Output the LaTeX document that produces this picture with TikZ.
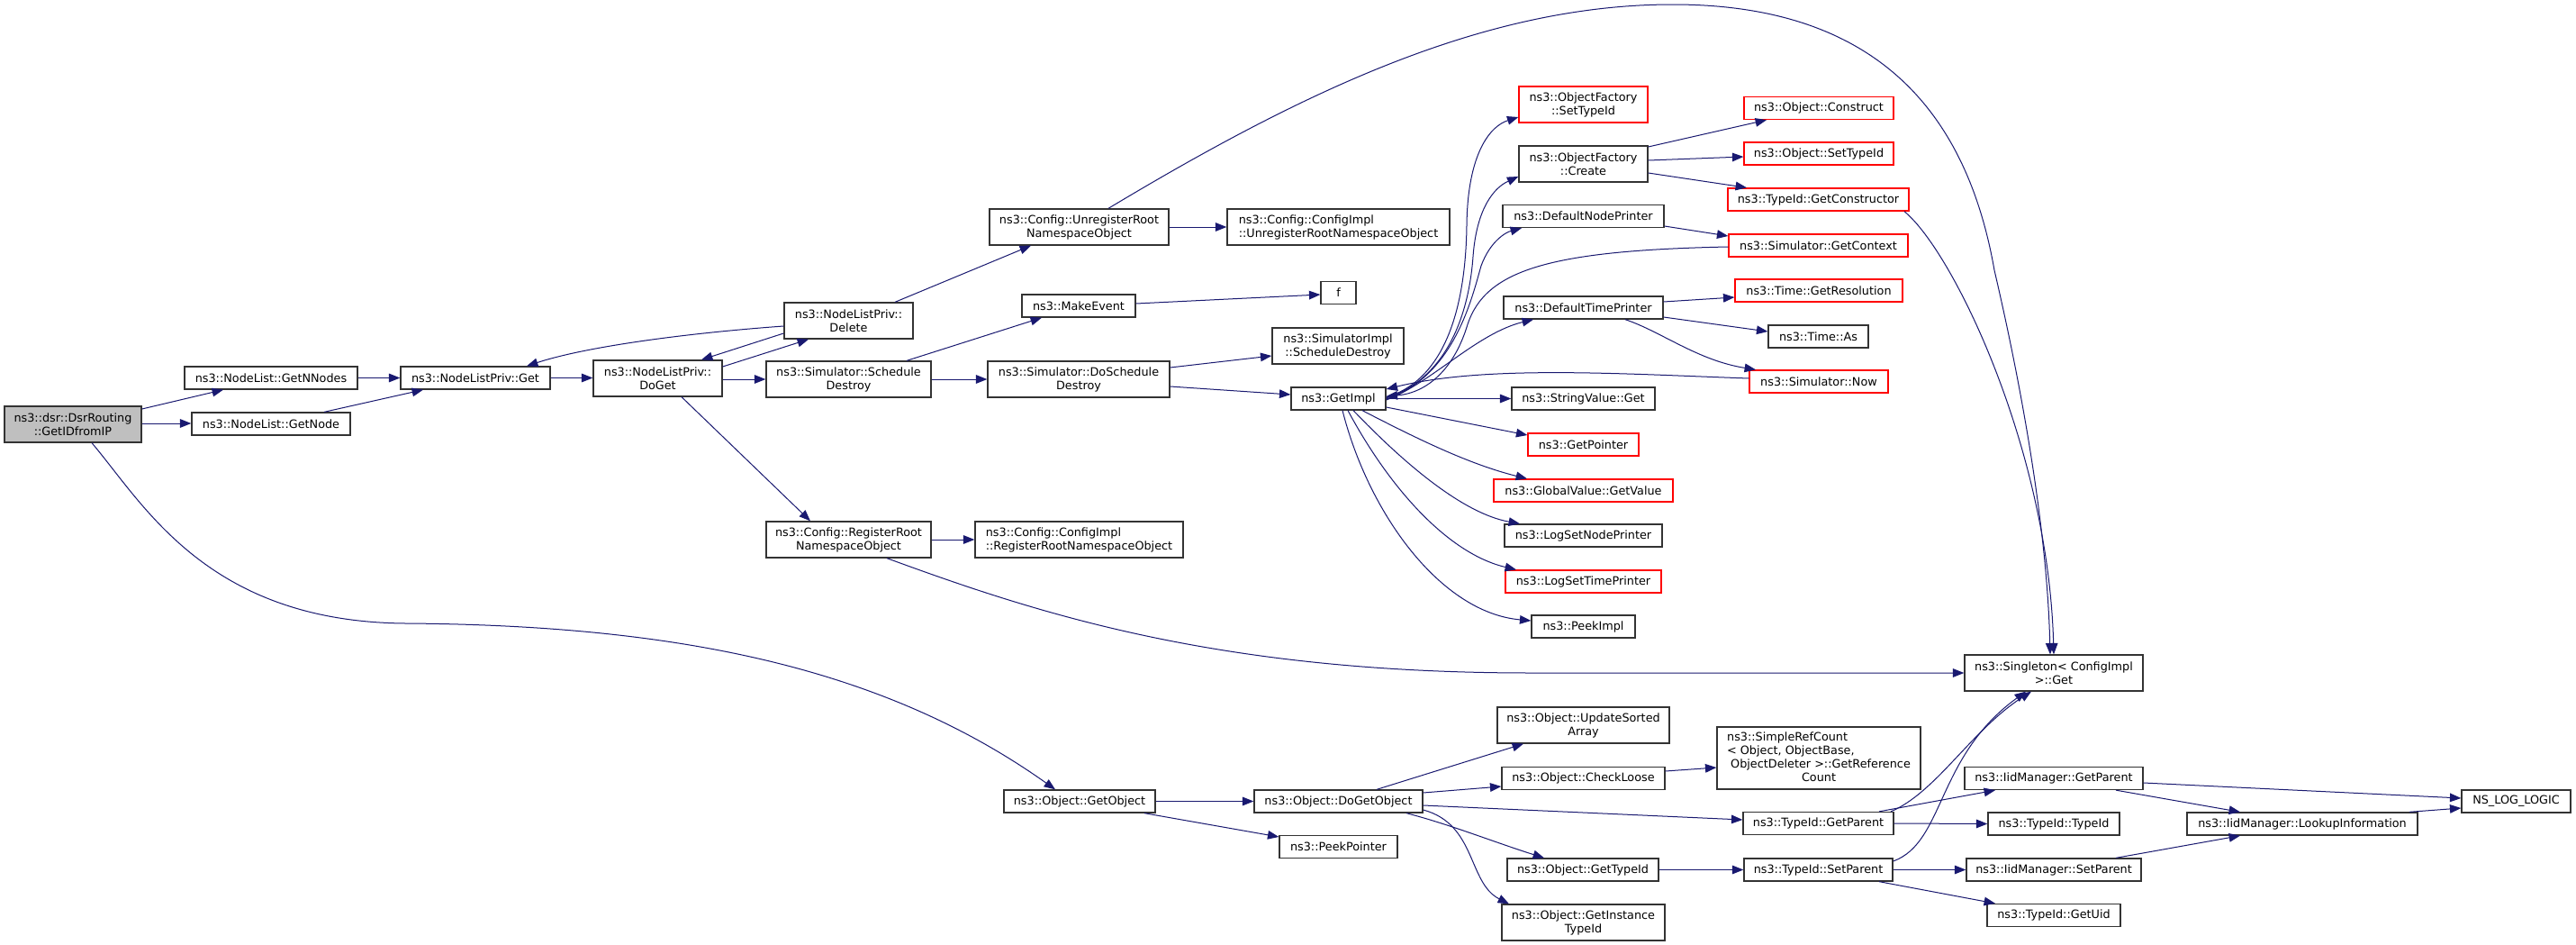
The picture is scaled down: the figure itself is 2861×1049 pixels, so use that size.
\documentclass[tikz,border=0pt]{standalone}
\usepackage{fontspec}
\setmainfont{DejaVu Sans}
\usetikzlibrary{arrows.meta,calc}
\definecolor{edgecol}{HTML}{191970}
\definecolor{rootfill}{HTML}{BFBFBF}
\definecolor{boxline}{HTML}{333333}
\definecolor{missred}{HTML}{FF0000}
\tikzset{
  fn/.style={draw=boxline, line width=0.65pt, inner sep=0pt, fill=white,
    font=\fontsize{6.4pt}{7.5pt}\selectfont, align=center},
  missing/.style={fn, draw=missred},
  bx/.style 2 args={minimum width=#1*0.5pt, minimum height=#2*0.5pt},
  call/.style={draw=edgecol, line width=0.5pt, -{Triangle[length=6.2pt,width=4.8pt]}, fill=none}
}
\begin{document}
\begin{tikzpicture}[x=0.5pt,y=-0.5pt]
\fill[white] (0,0) rectangle (2861,1049);
\useasboundingbox (0,0) rectangle (2861,1049);

% nodes
\node[fn, bx={152}{40}, fill=rootfill] (root) at (81,471) {ns3::dsr::DsrRouting\\::GetIDfromIP};
\node[fn, bx={192}{25}] (getnnodes) at (301,419.5) {ns3::NodeList::GetNNodes};
\node[fn, bx={176}{25}] (getnode) at (301,470.5) {ns3::NodeList::GetNode};
\node[fn, bx={166}{25}] (nlpget) at (528,419.5) {ns3::NodeListPriv::Get};
\node[fn, bx={143}{40}] (doget) at (730.5,420) {ns3::NodeListPriv::\\DoGet};
\node[fn, bx={143}{40}] (delete) at (942.5,356) {ns3::NodeListPriv::\\Delete};
\node[fn, bx={183}{40}] (schdest) at (942.5,421) {ns3::Simulator::Schedule\\Destroy};
\node[fn, bx={183}{40}] (regroot) at (942.5,599) {ns3::Config::RegisterRoot\\NamespaceObject};
\node[fn, bx={199}{40}] (unreg) at (1198.5,252) {ns3::Config::UnregisterRoot\\NamespaceObject};
\node[fn, bx={126}{25}] (makeevent) at (1198,339.5) {ns3::MakeEvent};
\node[fn, bx={202}{40}] (doschdest) at (1198,421) {ns3::Simulator::DoSchedule\\Destroy};
\node[fn, bx={231}{40}, align=left] (cfgreg) at (1198.5,599) {ns3::Config::ConfigImpl\\::RegisterRootNamespaceObject};
\node[fn, bx={168}{25}] (getobject) at (1199,889.5) {ns3::Object::GetObject};
\node[fn, bx={247}{40}, align=left] (cfgunreg) at (1486.5,252) {ns3::Config::ConfigImpl\\::UnregisterRootNamespaceObject};
\node[fn, bx={39}{25}] (f) at (1486.5,325) {f};
\node[fn, bx={146}{40}] (simimpl) at (1486,384) {ns3::SimulatorImpl\\::ScheduleDestroy};
\node[fn, bx={105}{25}] (getimpl) at (1486.5,442.5) {ns3::GetImpl};
\node[fn, bx={187}{25}] (dogetobject) at (1486.5,889.5) {ns3::Object::DoGetObject};
\node[fn, bx={131}{25}] (peekpointer) at (1486.5,940) {ns3::PeekPointer};
\node[missing, bx={143}{40}] (ofsettype) at (1758.5,116) {ns3::ObjectFactory\\::SetTypeId};
\node[fn, bx={143}{40}] (ofcreate) at (1758.5,182) {ns3::ObjectFactory\\::Create};
\node[fn, bx={179}{25}] (defnode) at (1758.5,240) {ns3::DefaultNodePrinter};
\node[fn, bx={177}{25}] (deftime) at (1758.5,341.5) {ns3::DefaultTimePrinter};
\node[fn, bx={159}{25}] (stringget) at (1758.5,442.5) {ns3::StringValue::Get};
\node[missing, bx={123}{25}] (getpointer) at (1758.5,493.5) {ns3::GetPointer};
\node[missing, bx={199}{25}] (globalval) at (1758.5,544.5) {ns3::GlobalValue::GetValue};
\node[fn, bx={175}{25}] (lognode) at (1758.5,594.5) {ns3::LogSetNodePrinter};
\node[missing, bx={173}{25}] (logtime) at (1758.5,645.5) {ns3::LogSetTimePrinter};
\node[fn, bx={115}{25}] (peekimpl) at (1758.5,695.5) {ns3::PeekImpl};
\node[fn, bx={191}{40}] (updsorted) at (1758.5,805) {ns3::Object::UpdateSorted\\Array};
\node[fn, bx={181}{25}] (checkloose) at (1758.5,864) {ns3::Object::CheckLoose};
\node[fn, bx={168}{25}] (objgettype) at (1758,965.5) {ns3::Object::GetTypeId};
\node[fn, bx={181}{40}] (getinst) at (1758.5,1024) {ns3::Object::GetInstance\\TypeId};
\node[missing, bx={166}{25}] (construct) at (2020,120) {ns3::Object::Construct};
\node[missing, bx={166}{25}] (objsettype) at (2020,170.5) {ns3::Object::SetTypeId};
\node[missing, bx={201}{25}] (getctor) at (2019.5,221.5) {ns3::TypeId::GetConstructor};
\node[missing, bx={199}{25}] (getcontext) at (2019.5,272.5) {ns3::Simulator::GetContext};
\node[missing, bx={186}{25}] (getres) at (2020,322.5) {ns3::Time::GetResolution};
\node[fn, bx={111}{25}] (timeas) at (2019.5,373.5) {ns3::Time::As};
\node[missing, bx={154}{25}] (simnow) at (2020,423.5) {ns3::Simulator::Now};
\node[fn, bx={226}{69}] (simpleref) at (2020,841.5) {\begin{tabular}{@{}l@{}}ns3::SimpleRefCount\\ < Object, ObjectBase,\\ \ ObjectDeleter >::GetReference\\ \multicolumn{1}{@{}c@{}}{Count}\end{tabular}};
\node[fn, bx={167}{25}] (tidgetparent) at (2019.5,914) {ns3::TypeId::GetParent};
\node[fn, bx={165}{25}] (tidsetparent) at (2019.5,965.5) {ns3::TypeId::SetParent};
\node[fn, bx={198}{40}] (singleton) at (2281,747) {ns3::Singleton< ConfigImpl\\ >::Get};
\node[fn, bx={198}{25}] (iidgetparent) at (2281,864) {ns3::IidManager::GetParent};
\node[fn, bx={146}{25}] (tidtypeid) at (2281,914.5) {ns3::TypeId::TypeId};
\node[fn, bx={194}{25}] (iidsetparent) at (2281,965.5) {ns3::IidManager::SetParent};
\node[fn, bx={148}{25}] (getuid) at (2281,1016) {ns3::TypeId::GetUid};
\node[fn, bx={256}{25}] (lookup) at (2557,914.5) {ns3::IidManager::LookupInformation};
\node[fn, bx={121}{25}] (nslog) at (2794.5,889.5) {NS\_LOG\_LOGIC};

% edges
\draw[call] (root.east |- 0,454) -- (getnnodes.south -| 248,0);
\draw[call] (root.east |- 0,470) -- (getnode.west |- 0,470);
\draw[call] (root.south -| 102,0) .. controls (160,560) and (230,690) .. (450,692) .. controls (750,694) and (980,740) .. (getobject.north -| 1172,0);
\draw[call] (getnnodes.east) -- (nlpget.west);
\draw[call] (getnode.north -| 360,0) -- (nlpget.south -| 470,0);
\draw[call] (nlpget.east) -- (doget.west |- 0,419.5);
\draw[call] (doget.east |- 0,407) -- (delete.south -| 898,0);
\draw[call] (doget.east |- 0,421) -- (schdest.west |- 0,421);
\draw[call] (doget.south -| 757,0) -- (regroot.north -| 900,0);
\draw[call] (delete.west |- 0,362) .. controls (760,370) and (650,385) .. (nlpget.north -| 585,0);
\draw[call] (delete.west |- 0,370) -- (doget.north -| 779,0);
\draw[call] (delete.north -| 994,0) -- (unreg.south -| 1145,0);
\draw[call] (schdest.north -| 1007,0) -- (makeevent.south -| 1157,0);
\draw[call] (schdest.east) -- (doschdest.west);
\draw[call] (makeevent.east |- 0,337) -- (f.west |- 0,327);
\draw[call] (unreg.east) -- (cfgunreg.west);
\draw[call] (unreg.north -| 1231,0) .. controls (1450,100) and (1650,5) .. (1858,5) .. controls (2060,5) and (2180,100) .. (2215,300) .. controls (2250,450) and (2274,600) .. (singleton.north -| 2277,0);
\draw[call] (regroot.south -| 985,0) .. controls (1150,680) and (1350,747) .. (1700,747) -- (singleton.west |- 0,747);
\draw[call] (regroot.east) -- (cfgreg.west);
\draw[call] (doschdest.east |- 0,408) -- (simimpl.west |- 0,395);
\draw[call] (doschdest.east |- 0,429) -- (getimpl.west |- 0,438);
\draw[call] (getimpl.east |- 0,441) .. controls (1610,420) and (1628,330) .. (1629,250) .. controls (1630,170) and (1655,140) .. (ofsettype.west |- 0,130);
\draw[call] (getimpl.east |- 0,442) .. controls (1612,418) and (1632,340) .. (1636,285) .. controls (1640,230) and (1660,208) .. (ofcreate.west |- 0,196);
\draw[call] (getimpl.east |- 0,443) .. controls (1615,418) and (1635,330) .. (1645,295) .. controls (1655,268) and (1672,258) .. (defnode.south -| 1690,0);
\draw[call] (getimpl.east |- 0,444) .. controls (1590,425) and (1640,370) .. (deftime.south -| 1703,0);
\draw[call] (getcontext.west |- 0,274) .. controls (1720,278) and (1650,300) .. (1630,360) .. controls (1615,410) and (1585,436) .. (getimpl.east |- 0,440);
\draw[call] (simnow.west |- 0,420) .. controls (1800,415) and (1650,405) .. (getimpl.east |- 0,432);
\draw[call] (getimpl.east) -- (stringget.west);
\draw[call] (getimpl.east |- 0,452) -- (getpointer.west |- 0,483);
\draw[call] (getimpl.south -| 1513,0) .. controls (1570,485) and (1630,515) .. (globalval.north -| 1696,0);
\draw[call] (getimpl.south -| 1503,0) .. controls (1560,515) and (1625,570) .. (lognode.north -| 1688,0);
\draw[call] (getimpl.south -| 1497,0) .. controls (1545,545) and (1610,615) .. (logtime.north -| 1684,0);
\draw[call] (getimpl.south -| 1491,0) .. controls (1520,570) and (1600,680) .. (peekimpl.west |- 0,689);
\draw[call] (ofcreate.east |- 0,163) -- (construct.south -| 1962,0);
\draw[call] (ofcreate.east |- 0,178) -- (objsettype.west |- 0,174);
\draw[call] (ofcreate.east |- 0,192) -- (getctor.north -| 1940,0);
\draw[call] (defnode.east |- 0,251) -- (getcontext.west |- 0,262);
\draw[call] (getctor.south -| 2115,0) .. controls (2170,280) and (2275,500) .. (singleton.north -| 2281,0);
\draw[call] (deftime.east |- 0,335) -- (getres.west |- 0,330);
\draw[call] (deftime.east |- 0,352) -- (timeas.west |- 0,368);
\draw[call] (deftime.south -| 1805,0) .. controls (1845,368) and (1885,400) .. (simnow.north -| 1950,0);
\draw[call] (getobject.east) -- (dogetobject.west);
\draw[call] (getobject.south -| 1271,0) -- (peekpointer.west |- 0,929);
\draw[call] (dogetobject.north -| 1529,0) -- (updsorted.south -| 1692,0);
\draw[call] (dogetobject.east |- 0,880) -- (checkloose.west |- 0,873);
\draw[call] (dogetobject.east |- 0,894) -- (tidgetparent.west |- 0,910);
\draw[call] (dogetobject.south -| 1562,0) .. controls (1610,915) and (1660,935) .. (objgettype.north -| 1715,0);
\draw[call] (dogetobject.east |- 0,899) .. controls (1640,915) and (1630,980) .. (getinst.north -| 1676,0);
\draw[call] (checkloose.east |- 0,856) -- (simpleref.west |- 0,852);
\draw[call] (objgettype.east) -- (tidsetparent.west);
\draw[call] (tidgetparent.north -| 2100,0) .. controls (2150,880) and (2190,810) .. (singleton.south -| 2256,0);
\draw[call] (tidsetparent.east |- 0,956) .. controls (2160,935) and (2150,840) .. (singleton.south -| 2250,0);
\draw[call] (tidgetparent.north -| 2087,0) -- (iidgetparent.south -| 2216,0);
\draw[call] (tidgetparent.east) -- (tidtypeid.west);
\draw[call] (tidsetparent.east) -- (iidsetparent.west);
\draw[call] (tidsetparent.south -| 2087,0) -- (getuid.north -| 2216,0);
\draw[call] (iidgetparent.east |- 0,869) -- (nslog.west |- 0,886);
\draw[call] (iidgetparent.south -| 2350,0) -- (lookup.north -| 2488,0);
\draw[call] (iidsetparent.north -| 2350,0) -- (lookup.south -| 2488,0);
\draw[call] (lookup.north -| 2676,0) -- (nslog.west |- 0,897);
\end{tikzpicture}
\end{document}
